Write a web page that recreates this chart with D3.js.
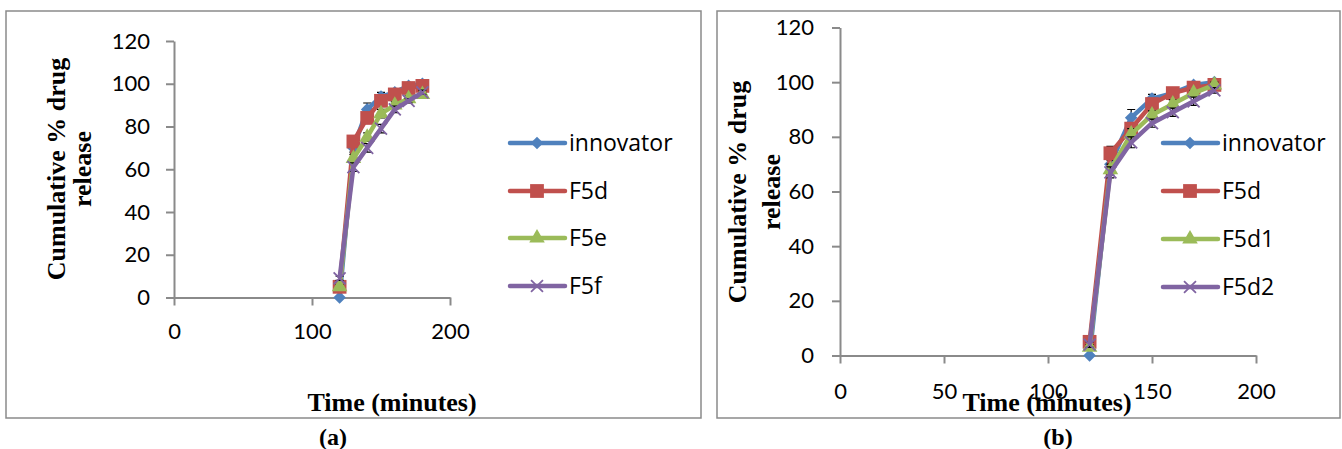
<!DOCTYPE html>
<html>
<head>
<meta charset="utf-8">
<script src="https://cdn.jsdelivr.net/npm/d3@7"></script>
<style>
  body { margin: 0; background: #fff; }
  svg { display: block; }
  .tick text { font-family: Lato, "Open Sans", sans-serif; fill: #000; }
  .title { font-family: "Liberation Serif", "Times New Roman", serif; font-weight: bold; fill: #000; }
  .legend text { font-family: "Open Sans", Lato, sans-serif; fill: #000; }
</style>
</head>
<body>
<script>
// sampling times (minutes)
const times = [120, 130, 140, 150, 160, 170, 180];

// panel (a)
const namesA = ["innovator", "F5d", "F5e", "F5f"];
const innovatorA = [0, 70, 88, 94, 96, 99, 100];
const f5dA = [5, 73, 84, 92, 95, 98, 99];
const f5eA = [5, 65, 75, 86, 90, 93, 95];
const f5fA = [9, 61, 70, 79, 88, 92, 96];
const errInnovatorA = [0, 2, 3, 2, 1.5, 1, 1];
const errF5dA = [1, 2, 2, 1.5, 1.5, 1, 1];
const errF5eA = [1, 2, 2, 2, 1.5, 1.5, 1];
const errF5fA = [1, 2, 2, 2, 1.5, 1, 1];

// panel (b)
const namesB = ["innovator", "F5d", "F5d1", "F5d2"];
const innovatorB = [0, 70, 87, 94, 96, 99, 100];
const f5dB = [5, 74, 83, 92, 96, 98, 99];
const f5d1B = [3, 68, 81, 88, 92, 96, 99];
const f5d2B = [4, 67, 78, 85, 89, 93, 97];
const errInnovatorB = [0, 2, 3, 1.5, 1, 1, 1];
const errF5dB = [1, 2.5, 2, 1.5, 1, 1, 1];
const errF5d1B = [1, 2, 2, 1.5, 1.5, 1, 1];
const errF5d2B = [1, 2, 2, 1.5, 1.5, 1.5, 1];

const xTicksA = [0, 100, 200];
const xTicksB = [0, 50, 100, 150, 200];
const yTicks = [0, 20, 40, 60, 80, 100, 120];

const colors = ["#4F81BD", "#C0504D", "#9BBB59", "#8064A2"];
const axisGrey = "#8a8a8a";

const svg = d3.select("body").append("svg")
  .attr("width", 1342)
  .attr("height", 449);

svg.append("rect").attr("width", 1342).attr("height", 449).attr("fill", "#fff");

// marker drawing per series index
const drawMarker = (sel, i, color) => {
  if (i === 0) {
    sel.append("path")
      .attr("d", d3.symbol().type(d3.symbolSquare).size(80)())
      .attr("transform", "rotate(45)")
      .attr("fill", color);
  } else if (i === 1) {
    sel.append("path")
      .attr("d", d3.symbol().type(d3.symbolSquare).size(190)())
      .attr("fill", color);
  } else if (i === 2) {
    sel.append("path")
      .attr("d", d3.symbol().type(d3.symbolTriangle).size(105)())
      .attr("fill", color);
  } else {
    sel.append("path")
      .attr("d", d3.symbol().type(d3.symbolTimes || d3.symbolCross).size(95)())
      .attr("fill", "none")
      .attr("stroke", color)
      .attr("stroke-width", 1.8);
  }
};

const drawPanel = (cfg) => {
  const g = svg.append("g");

  // panel frame
  g.append("rect")
    .attr("x", cfg.frame[0]).attr("y", cfg.frame[1])
    .attr("width", cfg.frame[2]).attr("height", cfg.frame[3])
    .attr("fill", "none").attr("stroke", axisGrey).attr("stroke-width", 1.5);

  const x = d3.scaleLinear().domain([0, 200]).range(cfg.xRange);
  const y = d3.scaleLinear().domain([0, 120]).range(cfg.yRange);

  const yAxis = d3.axisLeft(y)
    .tickValues(yTicks)
    .tickSize(8)
    .tickSizeOuter(0)
    .tickPadding(cfg.yPad)
    .tickFormat(d3.format("d"));

  const xAxis = d3.axisBottom(x)
    .tickValues(cfg.xTicks)
    .tickSize(8)
    .tickSizeOuter(0)
    .tickPadding(cfg.xPad)
    .tickFormat(d3.format("d"));

  const ya = g.append("g")
    .attr("transform", "translate(" + x(0) + ",0)")
    .call(yAxis);
  const xa = g.append("g")
    .attr("transform", "translate(0," + y(0) + ")")
    .call(xAxis);

  [ya, xa].forEach(a => {
    a.select(".domain").attr("stroke", axisGrey).attr("stroke-width", 2);
    a.selectAll(".tick line").attr("stroke", axisGrey).attr("stroke-width", 2);
    a.selectAll(".tick text").style("font-size", "22px");
  });

  const line = d3.line()
    .x((d, i) => x(times[i]))
    .y(d => y(d));

  cfg.series.forEach((vals, si) => {
    const color = colors[si];
    const sg = g.append("g");

    // error bars
    sg.selectAll(".err")
      .data(vals)
      .enter()
      .append("path")
      .attr("class", "err")
      .attr("d", (d, i) => {
        const e = cfg.errors[si][i];
        const cx = x(times[i]);
        const top = y(d + e), bot = y(d - e);
        return "M" + cx + "," + bot + "V" + top +
               "M" + (cx - 4) + "," + top + "H" + (cx + 4) +
               "M" + (cx - 4) + "," + bot + "H" + (cx + 4);
      })
      .attr("stroke", "#000")
      .attr("stroke-width", 1.2)
      .attr("fill", "none");

    sg.append("path")
      .datum(vals)
      .attr("d", line)
      .attr("fill", "none")
      .attr("stroke", color)
      .attr("stroke-width", 4.5)
      .attr("stroke-linejoin", "round");

    sg.selectAll(".mk")
      .data(vals)
      .enter()
      .append("g")
      .attr("class", "mk")
      .attr("transform", (d, i) => "translate(" + x(times[i]) + "," + y(d) + ")")
      .each(function () { drawMarker(d3.select(this), si, color); });
  });

  // legend
  const lg = g.append("g").attr("class", "legend");
  cfg.names.forEach((name, i) => {
    const row = lg.append("g")
      .attr("transform", "translate(" + cfg.legendX + "," + cfg.legendY[i] + ")");
    row.append("line")
      .attr("x1", 0).attr("x2", 55)
      .attr("stroke", colors[i]).attr("stroke-width", 4.5)
      .attr("stroke-linecap", "round");
    const m = row.append("g").attr("transform", "translate(27,0)");
    drawMarker(m, i, colors[i]);
    row.append("text")
      .attr("x", 59)
      .attr("dy", "0.36em")
      .style("font-size", "23px")
      .text(name);
  });

  // axis titles
  g.append("text")
    .attr("class", "title")
    .attr("transform", "translate(" + cfg.yTitle[0] + "," + cfg.yTitle[2] + ") rotate(-90)")
    .attr("text-anchor", "middle")
    .attr("dy", "0.33em")
    .style("font-size", "26px")
    .text("Cumulative % drug");
  g.append("text")
    .attr("class", "title")
    .attr("transform", "translate(" + cfg.yTitle[1] + "," + cfg.yTitle[2] + ") rotate(-90)")
    .attr("text-anchor", "middle")
    .attr("dy", "0.33em")
    .style("font-size", "26px")
    .text("release");
  g.append("text")
    .attr("class", "title")
    .attr("x", cfg.xTitle[0]).attr("y", cfg.xTitle[1])
    .attr("text-anchor", "middle")
    .style("font-size", "26px")
    .text("Time (minutes)");
  g.append("text")
    .attr("class", "title")
    .attr("x", cfg.label[0]).attr("y", cfg.label[1])
    .attr("text-anchor", "middle")
    .style("font-size", "24px")
    .text(cfg.labelText);
};

drawPanel({
  frame: [6, 11, 695, 407],
  xRange: [174, 450],
  yRange: [297.5, 41],
  xTicks: xTicksA,
  yPad: 16,
  xPad: 18,
  names: namesA,
  series: [innovatorA, f5dA, f5eA, f5fA],
  errors: [errInnovatorA, errF5dA, errF5eA, errF5fA],
  legendX: 510,
  legendY: [143, 191, 238, 286],
  yTitle: [56, 82, 169],
  xTitle: [392, 411],
  label: [333, 445],
  labelText: "(a)"
});

drawPanel({
  frame: [717, 11, 623, 407],
  xRange: [840, 1256],
  yRange: [355.5, 27.5],
  xTicks: xTicksB,
  yPad: 18,
  xPad: 20,
  names: namesB,
  series: [innovatorB, f5dB, f5d1B, f5d2B],
  errors: [errInnovatorB, errF5dB, errF5d1B, errF5d2B],
  legendX: 1163,
  legendY: [143, 191, 239, 287],
  yTitle: [737, 771, 192],
  xTitle: [1047, 411],
  label: [1058, 445],
  labelText: "(b)"
});
</script>
</body>
</html>
